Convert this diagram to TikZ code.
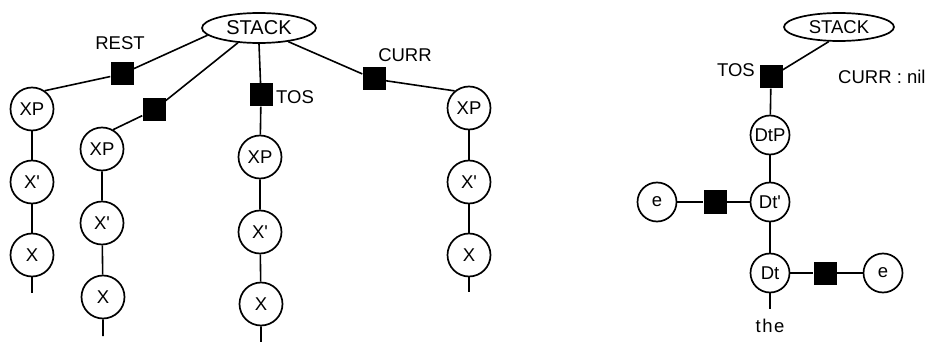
\documentclass[tikz,border=0pt]{standalone}
\usepackage{fontspec}
\usetikzlibrary{shapes.geometric}
\newfontfamily\hv{Liberation Sans}
\begin{document}
\begin{tikzpicture}[x=1pt,y=-1pt,
  every node/.style={font=\hv\fontsize{18.5}{19}\selectfont},
  cat/.style={circle,draw,line width=1.7pt,minimum size=43pt,inner sep=0pt},
  catsm/.style={cat,minimum size=39pt},
  stk/.style={ellipse,draw,line width=1.7pt,inner sep=0pt},
  blk/.style={rectangle,fill=black,minimum size=23pt,inner sep=0pt},
  lbl/.style={inner sep=0pt},
  edge/.style={line width=1.6pt}]
\useasboundingbox (0,0) rectangle (951,342);

% ---------- left structure ----------
\node[stk,minimum width=114pt,minimum height=30pt,font=\hv\fontsize{20}{20}\selectfont] (stk) at (259,28) {STACK};

\node[blk] (sqR) at (122,74) {};
\node[blk] (sqB) at (154,110) {};
\node[blk] (sqT) at (261,95) {};
\node[blk] (sqC) at (374,79) {};
\node[lbl] (rest) at (120,43) {REST};
\node[lbl,anchor=west] (tos) at (276,97) {TOS};
\node[lbl] (curr) at (405,55) {CURR};

% branch 1
\node[cat] (a1) at (32,109) {XP};
\node[cat] (a2) at (32,182) {X\textquotesingle};
\node[cat] (a3) at (32,255) {X};
\coordinate (a4) at (32,293);
% branch 2
\node[cat] (b1) at (102,149) {XP};
\node[cat] (b2) at (102,223) {X\textquotesingle};
\node[cat] (b3) at (103,297) {X};
\coordinate (b4) at (103,336);
% branch 3
\node[cat] (c1) at (260,157) {XP};
\node[cat] (c2) at (260,232) {X\textquotesingle};
\node[cat] (c3) at (261,304) {X};
\coordinate (c4) at (261,342);
% branch 4
\node[cat] (d1) at (469,108) {XP};
\node[cat] (d2) at (469,182) {X\textquotesingle};
\node[cat] (d3) at (469,255) {X};
\coordinate (d4) at (469,292);

\draw[edge] (stk.188) -- (sqR) -- (a1.55);
\draw[edge] (stk.215) -- (sqB) -- (b1.60);
\draw[edge] (stk.south) -- (sqT) -- (c1);
\draw[edge] (stk.335) -- (sqC) -- (d1.130);
\draw[edge] (a1) -- (a2) -- (a3) -- (a4);
\draw[edge] (b1) -- (b2) -- (b3) -- (b4);
\draw[edge] (c1) -- (c2) -- (c3) -- (c4);
\draw[edge] (d1) -- (d2) -- (d3) -- (d4);

% ---------- right structure ----------
\node[stk,minimum width=110pt,minimum height=28pt] (stk2) at (839,27) {STACK};
\node[blk] (sq1) at (771,77) {};
\node[lbl,anchor=east] (tos2) at (755,70) {TOS};
\node[lbl,anchor=west] (nil) at (838,77) {CURR : nil};

\node[catsm] (dtp) at (770,135) {DtP};
\node[catsm] (dtb) at (770,202) {Dt\textquotesingle};
\node[catsm] (dt) at (770,273) {Dt};
\node[catsm] (e1) at (657,202) {e};
\node[blk] (sq2) at (715,202) {};
\node[catsm] (e2) at (883,273) {e};
\node[blk] (sq3) at (825,273) {};
\coordinate (tail) at (770,309);
\node[lbl] (the) at (770,326) {t\kern1.5pt h\kern1.5pt e};

\draw[edge] (stk2.235) -- (sq1) -- (dtp);
\draw[edge] (dtp) -- (dtb) -- (dt) -- (tail);
\draw[edge,line width=2pt] (e1) -- (sq2) -- (dtb);
\draw[edge,line width=2pt] (dt) -- (sq3) -- (e2);
\end{tikzpicture}
\end{document}
